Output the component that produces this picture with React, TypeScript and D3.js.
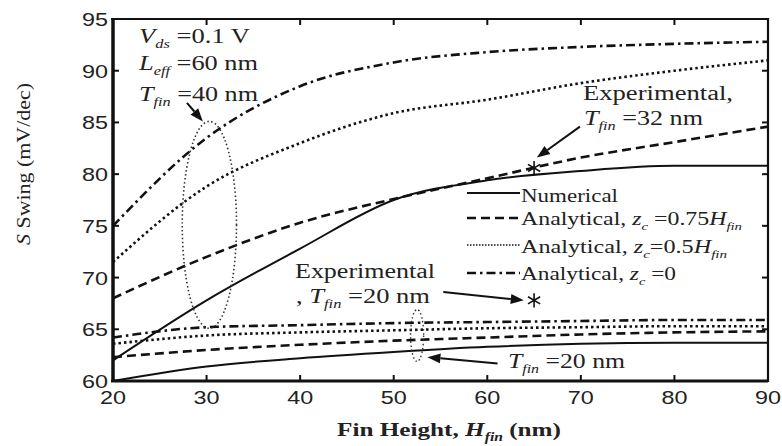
import React from "react";
import * as d3 from "d3";

// ---- data ----
const hfin = [20, 30, 40, 50, 60, 70, 80, 90];
const numerical40 = [62, 67.8, 72.8, 77.5, 79.4, 80.3, 80.8, 80.8];
const analytical075_40 = [68, 72, 75.3, 77.6, 79.6, 81.6, 83.1, 84.6];
const analytical05_40 = [71.5, 78.8, 83, 85.9, 87.2, 88.8, 90, 91];
const analytical0_40 = [75, 83.5, 88.5, 90.8, 91.8, 92.3, 92.6, 92.8];
const numerical20 = [60, 61.4, 62.2, 62.8, 63.3, 63.6, 63.7, 63.7];
const analytical075_20 = [62.3, 63, 63.5, 63.9, 64.2, 64.5, 64.7, 64.8];
const analytical05_20 = [63.6, 64.4, 64.7, 64.9, 65.1, 65.2, 65.3, 65.3];
const analytical0_20 = [64.2, 65.2, 65.4, 65.6, 65.7, 65.8, 65.9, 65.9];
const experimentalH = [65, 65];
const experimentalS = [80.6, 67.8];
const xTicks = [20, 30, 40, 50, 60, 70, 80, 90];
const yTicks = [60, 65, 70, 75, 80, 85, 90, 95];

const W = 782;
const H = 446;
const x = d3.scaleLinear().domain([20, 90]).range([113, 768]);
const y = d3.scaleLinear().domain([60, 95]).range([381, 19]);

const styles: Record<string, { dash: string; w: number }> = {
  solid: { dash: "", w: 2 },
  dashed: { dash: "9,5", w: 2.6 },
  dotted: { dash: "2.5,3", w: 2.6 },
  dashdot: { dash: "9,4,2.5,4", w: 2.6 },
};

const series = [
  { v: numerical40, s: "solid" },
  { v: analytical075_40, s: "dashed" },
  { v: analytical05_40, s: "dotted" },
  { v: analytical0_40, s: "dashdot" },
  { v: numerical20, s: "solid" },
  { v: analytical075_20, s: "dashed" },
  { v: analytical05_20, s: "dotted" },
  { v: analytical0_20, s: "dashdot" },
];

const line = d3
  .line<number>()
  .x((_, i) => x(hfin[i]))
  .y((d) => y(d))
  .curve(d3.curveMonotoneX);

const serif = "'Liberation Serif', 'Times New Roman', serif";
const sans = "'Liberation Sans', Arial, sans-serif";

type Part = { t: string; i?: boolean; sub?: boolean };

function Rich({ parts, x0, y0, size, len, bold }: { parts: Part[]; x0: number; y0: number; size: number; len?: number; bold?: boolean }) {
  let shifted = false;
  return (
    <text
      x={x0}
      y={y0}
      fontFamily={serif}
      fontSize={size}
      fontWeight={bold ? "bold" : "normal"}
      fill="#222"
      textLength={len}
      lengthAdjust={len ? "spacingAndGlyphs" : undefined}
    >
      {parts.map((p, k) => {
        let dy = 0;
        if (p.sub && !shifted) {
          dy = size * 0.25;
          shifted = true;
        } else if (!p.sub && shifted) {
          dy = -size * 0.25;
          shifted = false;
        }
        return (
          <tspan key={k} dy={dy || undefined} fontStyle={p.i ? "italic" : "normal"} fontSize={p.sub ? size * 0.62 : size}>
            {p.t}
          </tspan>
        );
      })}
    </text>
  );
}

function Arrow({ x1, y1, x2, y2 }: { x1: number; y1: number; x2: number; y2: number }) {
  const X1 = x(x1), Y1 = y(y1), X2 = x(x2), Y2 = y(y2);
  const ang = Math.atan2(Y2 - Y1, X2 - X1);
  const L = 13, Wd = 5;
  const bx = X2 - L * Math.cos(ang), by = Y2 - L * Math.sin(ang);
  const p1 = [bx + Wd * Math.sin(ang), by - Wd * Math.cos(ang)];
  const p2 = [bx - Wd * Math.sin(ang), by + Wd * Math.cos(ang)];
  return (
    <g>
      <line x1={X1} y1={Y1} x2={bx} y2={by} stroke="#111" strokeWidth={2} />
      <polygon points={`${X2},${Y2} ${p1[0]},${p1[1]} ${p2[0]},${p2[1]}`} fill="#111" />
    </g>
  );
}

export default function App() {
  const star = d3.symbol().type(d3.symbolAsterisk).size(140)();
  const legend = [
    { s: "solid", parts: [{ t: "Numerical" }], len: 97, yl: 193, yt: 202 },
    {
      s: "dashed",
      parts: [{ t: "Analytical, " }, { t: "z", i: true }, { t: "c", i: true, sub: true }, { t: " =0.75" }, { t: "H", i: true }, { t: "fin", i: true, sub: true }],
      len: 221,
      yl: 218,
      yt: 225,
    },
    {
      s: "dotted",
      parts: [{ t: "Analytical, " }, { t: "z", i: true }, { t: "c", i: true, sub: true }, { t: "=0.5" }, { t: "H", i: true }, { t: "fin", i: true, sub: true }],
      len: 206,
      yl: 245,
      yt: 253,
    },
    {
      s: "dashdot",
      parts: [{ t: "Analytical, " }, { t: "z", i: true }, { t: "c", i: true, sub: true }, { t: " =0" }],
      len: 155,
      yl: 273,
      yt: 280,
    },
  ];
  return (
    <svg width={W} height={H} style={{ position: "absolute", left: 0, top: 0, background: "#fff" }}>
      <rect width={W} height={H} fill="#fff" />
      {/* series */}
      {series.map((d, i) => (
        <path
          key={i}
          d={line(d.v) || ""}
          fill="none"
          stroke="#111"
          strokeWidth={styles[d.s].w}
          strokeDasharray={styles[d.s].dash || undefined}
        />
      ))}
      {/* experimental points */}
      {experimentalH.map((h, i) => (
        <path key={i} d={star || ""} transform={`translate(${x(h)},${y(experimentalS[i])})`} fill="none" stroke="#111" strokeWidth={1.6} />
      ))}
      {/* ellipses */}
      <ellipse cx={x(30.3)} cy={y(75.1)} rx={x(33.2) - x(30.3)} ry={y(65.1) - y(75.1)} fill="none" stroke="#333" strokeWidth={1.6} strokeDasharray="1.5,2.5" />
      <ellipse cx={x(52.5)} cy={y(64.4)} rx={x(53.2) - x(52.5)} ry={y(61.9) - y(64.4)} fill="none" stroke="#333" strokeWidth={1.4} strokeDasharray="1.5,2.5" />
      {/* arrows */}
      <Arrow x1={27.9} y1={86.9} x2={29.6} y2={85.1} />
      <Arrow x1={69.9} y1={84.6} x2={65.3} y2={81.6} />
      <Arrow x1={55.3} y1={68.6} x2={63.9} y2={67.8} />
      <Arrow x1={61.1} y1={61.7} x2={53.6} y2={62.3} />
      {/* axes frame */}
      <line x1={113} y1={19} x2={113} y2={381} stroke="#111" strokeWidth={3.5} />
      <line x1={111} y1={381} x2={768} y2={381} stroke="#111" strokeWidth={3} />
      <line x1={111} y1={19} x2={768} y2={19} stroke="#111" strokeWidth={2.2} />
      <line x1={768} y1={18} x2={768} y2={382} stroke="#111" strokeWidth={2.2} />
      {/* ticks */}
      {xTicks.map((t) => (
        <g key={"x" + t}>
          <line x1={x(t)} x2={x(t)} y1={381} y2={375} stroke="#111" strokeWidth={2} />
          <line x1={x(t)} x2={x(t)} y1={19} y2={25} stroke="#111" strokeWidth={2} />
          <text x={x(t)} y={404} textAnchor="middle" fontFamily={sans} fontSize={19} fill="#222" textLength={26} lengthAdjust="spacingAndGlyphs">
            {t}
          </text>
        </g>
      ))}
      {yTicks.map((t) => (
        <g key={"y" + t}>
          <line x1={113} x2={119} y1={y(t)} y2={y(t)} stroke="#111" strokeWidth={2} />
          <line x1={768} x2={762} y1={y(t)} y2={y(t)} stroke="#111" strokeWidth={2} />
          <text x={108} y={y(t) + 7} textAnchor="end" fontFamily={sans} fontSize={19} fill="#222" textLength={26} lengthAdjust="spacingAndGlyphs">
            {t}
          </text>
        </g>
      ))}
      {/* axis labels */}
      <Rich parts={[{ t: "Fin Height, " }, { t: "H", i: true }, { t: "fin", i: true, sub: true }, { t: " (nm)" }]} x0={337} y0={436} size={19} len={224} bold />
      <g transform="translate(30,245) rotate(-90)">
        <Rich parts={[{ t: "S", i: true }, { t: " Swing (mV/dec)" }]} x0={0} y0={0} size={18} len={162} />
      </g>
      {/* annotations */}
      <Rich parts={[{ t: "V", i: true }, { t: "ds", i: true, sub: true }, { t: " =0.1 V" }]} x0={139} y0={43} size={20} len={111} />
      <Rich parts={[{ t: "L", i: true }, { t: "eff", i: true, sub: true }, { t: " =60 nm" }]} x0={139} y0={70} size={20} len={119} />
      <Rich parts={[{ t: "T", i: true }, { t: "fin", i: true, sub: true }, { t: " =40 nm" }]} x0={139} y0={101} size={20} len={119} />
      <Rich parts={[{ t: "Experimental," }]} x0={583} y0={100} size={20} len={150} />
      <Rich parts={[{ t: "T", i: true }, { t: "fin", i: true, sub: true }, { t: " =32 nm" }]} x0={584} y0={125} size={20} len={119} />
      <Rich parts={[{ t: "Experimental" }]} x0={295} y0={278} size={20} len={140} />
      <Rich parts={[{ t: ", " }, { t: "T", i: true }, { t: "fin", i: true, sub: true }, { t: " =20 nm" }]} x0={296} y0={303} size={20} len={134} />
      <Rich parts={[{ t: "T", i: true }, { t: "fin", i: true, sub: true }, { t: " =20 nm" }]} x0={508} y0={368} size={20} len={117} />
      {/* legend */}
      {legend.map((l, i) => (
        <g key={i}>
          <line x1={467} x2={520} y1={l.yl} y2={l.yl} stroke="#111" strokeWidth={l.s === "dotted" ? 1.4 : styles[l.s].w} strokeDasharray={l.s === "dotted" ? "1.5,1.5" : styles[l.s].dash || undefined} />
          <Rich parts={l.parts} x0={521} y0={l.yt} size={18} len={l.len} />
        </g>
      ))}
    </svg>
  );
}
